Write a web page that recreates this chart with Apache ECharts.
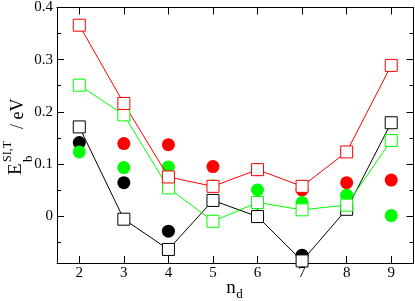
<!DOCTYPE html>
<html>
<head>
<meta charset="utf-8">
<script src="https://cdn.jsdelivr.net/npm/echarts@6/dist/echarts.min.js"></script>
<style>html,body{margin:0;padding:0;background:#fff;}#c{width:415px;height:301px;}</style>
</head>
<body>
<div id="c"></div>
<script>
var xs = [2, 3, 4, 5, 6, 7, 8, 9];
var xTicks = [2, 3, 4, 5, 6, 7, 8, 9];
var yTicks = [0, 0.1, 0.2, 0.3, 0.4];
var yMinorTicks = [-0.05, 0.05, 0.15, 0.25, 0.35];
var redSquares   = [0.366, 0.216, 0.075, 0.057, 0.089, 0.057, 0.123, 0.289];
var greenSquares = [0.251, 0.194, 0.054, -0.010, 0.026, 0.012, 0.021, 0.145];
var blackSquares = [0.171, -0.006, -0.064, 0.030, -0.001, -0.086, 0.013, 0.179];
var redCircles   = [null, 0.139, 0.137, 0.095, 0.089, 0.050, 0.064, 0.069];
var greenCircles = [0.123, 0.093, 0.094, 0.058, 0.050, 0.026, 0.040, 0.001];
var blackCircles = [0.141, 0.064, -0.029, null, 0.000, -0.075, 0.015, null];

function pairs(vals) {
  var out = [];
  for (var i = 0; i < xs.length; i++) {
    if (vals[i] !== null) out.push([xs[i], vals[i]]);
  }
  return out;
}
var FONT = 'Liberation Serif';
var lineAx = { show: true, onZero: false, lineStyle: { color: '#000', width: 1 } };

function xAxisDef(pos, labels) {
  return {
    type: 'value', position: pos, min: 1.5, max: 9.5,
    axisLine: lineAx,
    axisTick: { show: true, inside: true, length: 7, customValues: xTicks, lineStyle: { color: '#000' } },
    axisLabel: { show: labels, customValues: xTicks, fontFamily: FONT, fontSize: 15, color: '#000', margin: 3 },
    splitLine: { show: false }
  };
}
function yAxisDef(pos, ticks, len, labels) {
  return {
    type: 'value', position: pos, min: -0.09, max: 0.4,
    axisLine: lineAx,
    axisTick: { show: true, inside: true, length: len, customValues: ticks, lineStyle: { color: '#000' } },
    axisLabel: { show: labels, customValues: ticks, fontFamily: FONT, fontSize: 15, color: '#000', margin: 4,
      formatter: function (v) { return v === 0 ? '0' : String(Math.round(v * 10) / 10); } },
    splitLine: { show: false }
  };
}

function sqSeries(vals, color) {
  return {
    type: 'line', data: pairs(vals), xAxisIndex: 0, yAxisIndex: 0,
    symbol: 'rect', symbolSize: 12, showSymbol: true,
    lineStyle: { color: color, width: 1 },
    itemStyle: { color: '#fff', borderColor: color, borderWidth: 1, opacity: 1 },
    animation: false, silent: true
  };
}
function circSeries(vals, color) {
  return {
    type: 'scatter', data: pairs(vals), xAxisIndex: 0, yAxisIndex: 0,
    symbol: 'circle', symbolSize: 13,
    itemStyle: { color: color, opacity: 1 },
    animation: false, silent: true
  };
}

var chart = echarts.init(document.getElementById('c'), null, { renderer: 'canvas' });
chart.setOption({
  backgroundColor: '#fff',
  animation: false,
  grid: { left: 57, right: 1.5, top: 6, bottom: 38 },
  xAxis: [xAxisDef('bottom', true), xAxisDef('top', false)],
  yAxis: [
    yAxisDef('left', yTicks, 7, true),
    yAxisDef('right', yTicks, 7, false),
    yAxisDef('left', yMinorTicks, 4, false),
    yAxisDef('right', yMinorTicks, 4, false)
  ],
  series: [
    sqSeries(blackSquares, '#000000'),
    sqSeries(greenSquares, '#00ff00'),
    sqSeries(redSquares, '#ff0000'),
    circSeries(redCircles, '#ff0000'),
    circSeries(blackCircles, '#000000'),
    circSeries(greenCircles, '#00ff00')
  ],
  graphic: [
    {
      type: 'group', x: 22, y: 175, rotation: Math.PI / 2,
      children: [
        { type: 'text', x: 0, y: -6, style: { text: 'E', font: '19px "Liberation Serif"', fill: '#000', align: 'left', verticalAlign: 'middle' } },
        { type: 'text', x: 13, y: 7, style: { text: 'b', font: '13px "Liberation Serif"', fill: '#000', align: 'left', verticalAlign: 'middle' } },
        { type: 'text', x: 13, y: -14, style: { text: 'SI,T', font: '12px "Liberation Serif"', fill: '#000', align: 'left', verticalAlign: 'middle' } },
        { type: 'text', x: 46, y: -4, style: { text: '/ eV', font: '18px "Liberation Serif"', fill: '#000', align: 'left', verticalAlign: 'middle' } }
      ]
    },
    { type: 'text', x: 231, y: 288, style: { text: 'n', font: '19px "Liberation Serif"', fill: '#000', align: 'center', verticalAlign: 'middle' } },
    { type: 'text', x: 239.5, y: 295, style: { text: 'd', font: '13px "Liberation Serif"', fill: '#000', align: 'center', verticalAlign: 'middle' } }
  ]
});
</script>
</body>
</html>
